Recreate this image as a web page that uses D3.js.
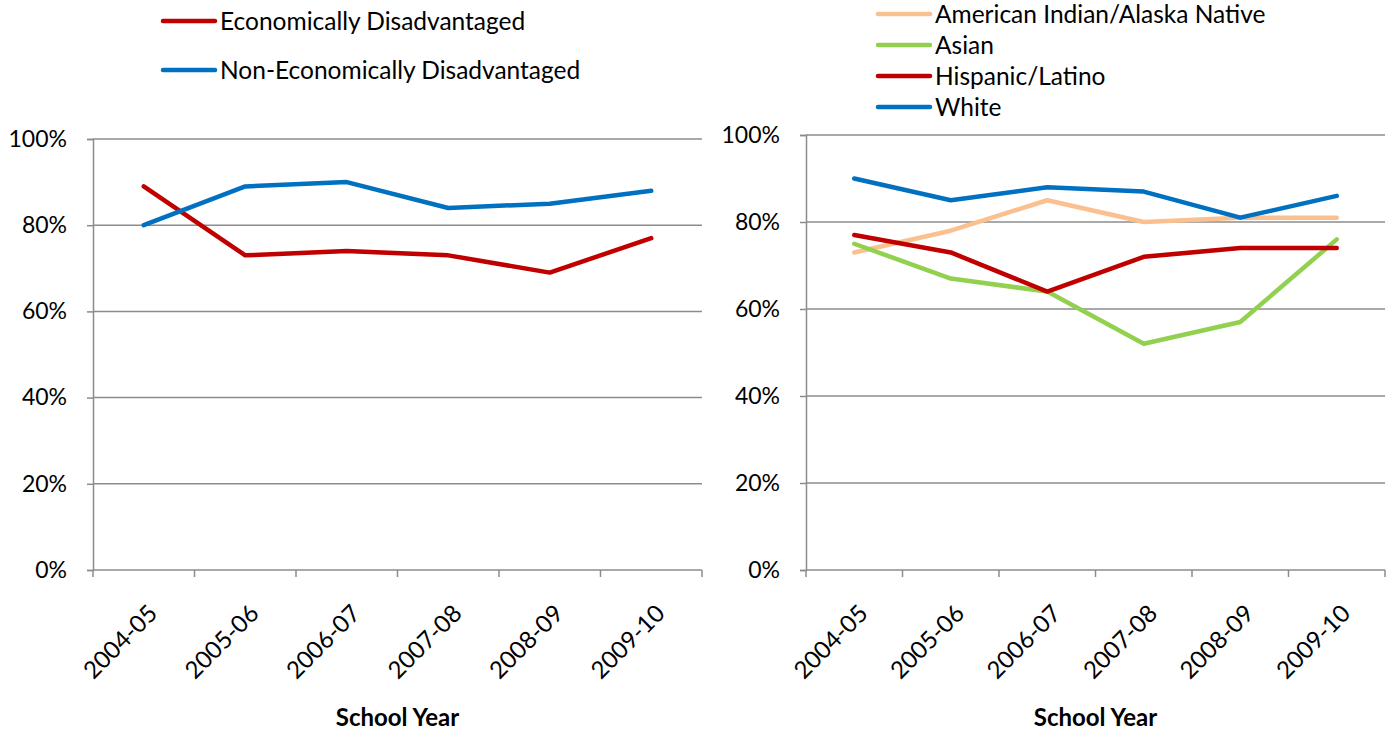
<!DOCTYPE html>
<html>
<head>
<meta charset="utf-8">
<script src="https://cdn.jsdelivr.net/npm/d3@7"></script>
<style>
  html, body { margin: 0; padding: 0; background: #fff; }
  svg { display: block; font-family: Lato, "Open Sans", sans-serif; }
</style>
</head>
<body>
<svg id="chart" width="1398" height="732"></svg>
<script>
// School years shared by both panels
const years = ["2004-05", "2005-06", "2006-07", "2007-08", "2008-09", "2009-10"];
const yTicks = [0, 20, 40, 60, 80, 100];

// Panel 1: by economic status (percent)
const econDisadvantaged = [89, 73, 74, 73, 69, 77];
const nonEconDisadvantaged = [80, 89, 90, 84, 85, 88];

// Panel 2: by race/ethnicity (percent)
const americanIndian = [73, 78, 85, 80, 81, 81];
const asian = [75, 67, 64, 52, 57, 76];
const hispanic = [77, 73, 64, 72, 74, 74];
const white = [90, 85, 88, 87, 81, 86];

const xTitle = "School Year";

const svg = d3.select("#chart");
const gridColor = "#8c8c8c";

function drawPanel(cfg) {
  const g = svg.append("g");
  const x = d3.scaleBand().domain(years).range([cfg.left, cfg.right]).paddingInner(0).paddingOuter(0);
  const y = d3.scaleLinear().domain([0, 100]).range([cfg.bottom, cfg.top]);

  // horizontal gridlines
  g.selectAll("line.grid").data(yTicks.filter(d => d > 0)).join("line")
    .attr("x1", cfg.left).attr("x2", cfg.right)
    .attr("y1", d => y(d)).attr("y2", d => y(d))
    .attr("stroke", gridColor).attr("stroke-width", 1.5);

  // y axis
  const yAxis = g.append("g").attr("transform", `translate(${cfg.left},0)`)
    .call(d3.axisLeft(y).tickValues(yTicks).tickFormat(d => d + "%").tickSize(6).tickPadding(20));
  yAxis.select(".domain").attr("stroke", gridColor).attr("stroke-width", 1.5);
  yAxis.selectAll(".tick line").attr("stroke", gridColor).attr("stroke-width", 1.5);
  yAxis.selectAll(".tick text").attr("font-size", 23).attr("fill", "#000")
    .attr("font-family", "Lato, sans-serif");

  // x axis (ticks at category boundaries)
  const xAxisG = g.append("g");
  xAxisG.append("line")
    .attr("x1", cfg.left).attr("x2", cfg.right)
    .attr("y1", cfg.bottom).attr("y2", cfg.bottom)
    .attr("stroke", gridColor).attr("stroke-width", 1.5);
  const boundaries = years.map(d => x(d)).concat([x(years[years.length - 1]) + x.bandwidth()]);
  xAxisG.selectAll("line.tk").data(boundaries).join("line")
    .attr("x1", d => d).attr("x2", d => d)
    .attr("y1", cfg.bottom).attr("y2", cfg.bottom + 7)
    .attr("stroke", gridColor).attr("stroke-width", 1.5);
  xAxisG.selectAll("text").data(years).join("text")
    .attr("transform", d => `translate(${x(d) + x.bandwidth() / 2 + 15},${cfg.bottom + 45}) rotate(-45)`)
    .attr("text-anchor", "end")
    .attr("font-size", 24)
    .attr("fill", "#000")
    .text(d => d);

  // axis title
  g.append("text")
    .attr("x", (cfg.left + cfg.right) / 2).attr("y", 726)
    .attr("text-anchor", "middle")
    .attr("font-size", 24).attr("font-weight", "bold")
    .text(xTitle);

  // series lines
  const line = d3.line()
    .x((d, i) => x(years[i]) + x.bandwidth() / 2)
    .y(d => y(d));
  cfg.series.forEach(s => {
    g.append("path")
      .datum(s.values)
      .attr("d", line)
      .attr("fill", "none")
      .attr("stroke", s.color)
      .attr("stroke-width", 4.5)
      .attr("stroke-linejoin", "round")
      .attr("stroke-linecap", "round");
  });

  // legend
  const lg = g.append("g");
  cfg.series.forEach((s, i) => {
    const ly = cfg.legendY + i * cfg.legendStep;
    lg.append("line")
      .attr("x1", cfg.legendX).attr("x2", cfg.legendX + 52)
      .attr("y1", ly).attr("y2", ly)
      .attr("stroke", s.color).attr("stroke-width", 4.5)
      .attr("stroke-linecap", "round");
    lg.append("text")
      .attr("x", cfg.legendX + 57).attr("y", ly)
      .attr("dy", "0.35em")
      .attr("font-size", 24.5)
      .attr("fill", "#000")
      .text(s.name);
  });
}

drawPanel({
  left: 93, right: 702, top: 139, bottom: 570,
  legendX: 163, legendY: 21, legendStep: 49,
  series: [
    { name: "Economically Disadvantaged", values: econDisadvantaged, color: "#C00000" },
    { name: "Non-Economically Disadvantaged", values: nonEconDisadvantaged, color: "#0070C0" }
  ]
});

drawPanel({
  left: 806, right: 1385, top: 135, bottom: 570,
  legendX: 878, legendY: 14, legendStep: 31,
  series: [
    { name: "American Indian/Alaska Native", values: americanIndian, color: "#FAC090" },
    { name: "Asian", values: asian, color: "#92D050" },
    { name: "Hispanic/Latino", values: hispanic, color: "#C00000" },
    { name: "White", values: white, color: "#0070C0" }
  ]
});
</script>
</body>
</html>
